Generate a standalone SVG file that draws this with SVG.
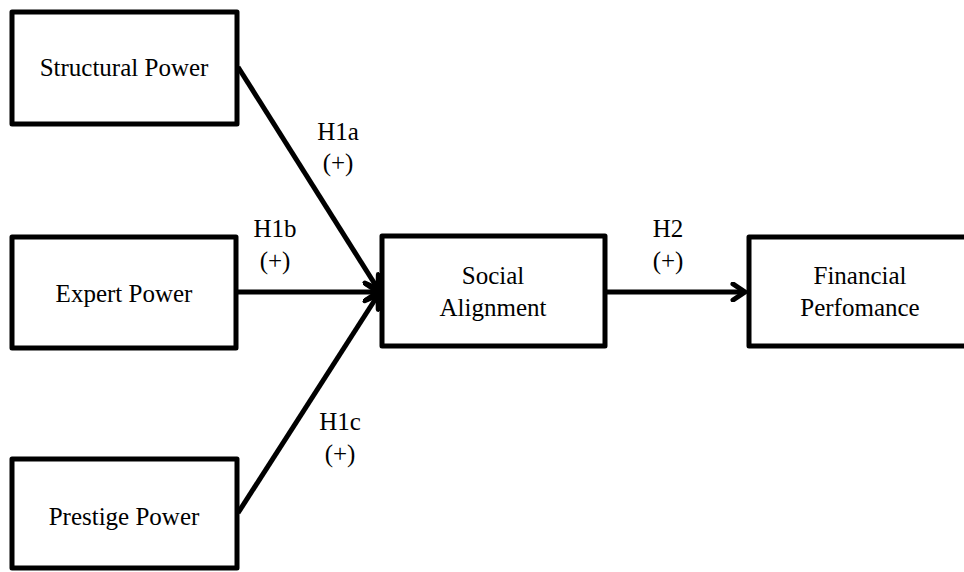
<svg xmlns="http://www.w3.org/2000/svg" width="964" height="572" viewBox="0 0 964 572">
<defs>
<style>
.box{fill:#fff;stroke:#000;stroke-width:5;stroke-linejoin:round}
.t{font-family:"Liberation Serif","Times New Roman",serif;font-size:25px;fill:#000;text-anchor:middle}
.edge{stroke:#000;stroke-width:5;fill:none}
</style>
<marker id="arr" viewBox="0 0 20 20" refX="17" refY="10" markerWidth="20" markerHeight="20" markerUnits="userSpaceOnUse" orient="auto">
<path d="M5,2 L17,10 L5,18" fill="none" stroke="#000" stroke-width="5" stroke-linecap="round" stroke-linejoin="miter"/>
</marker>
</defs>
<rect width="964" height="572" fill="#fff"/>
<g id="connectors">
<line class="edge" x1="238" y1="67" x2="378" y2="289" marker-end="url(#arr)"/>
<line class="edge" x1="238" y1="292" x2="378" y2="292" marker-end="url(#arr)"/>
<line class="edge" x1="238" y1="513" x2="378" y2="295" marker-end="url(#arr)"/>
<line class="edge" x1="607" y1="292" x2="745" y2="292" marker-end="url(#arr)"/>
<text class="t" x="338" y="140">H1a</text>
<text class="t" x="338" y="171">(+)</text>
<text class="t" x="275" y="237">H1b</text>
<text class="t" x="275" y="269">(+)</text>
<text class="t" x="668" y="237">H2</text>
<text class="t" x="668" y="269">(+)</text>
<text class="t" x="340" y="430">H1c</text>
<text class="t" x="340" y="462">(+)</text>
</g>
<g id="structural">
<rect class="box" x="12" y="12" width="225" height="112"/>
<text class="t" x="124" y="76">Structural Power</text>
</g>
<g id="expert">
<rect class="box" x="12" y="237" width="224" height="111"/>
<text class="t" x="124" y="302">Expert Power</text>
</g>
<g id="prestige">
<rect class="box" x="12" y="459" width="225" height="109"/>
<text class="t" x="124" y="525">Prestige Power</text>
</g>
<g id="social">
<rect class="box" x="382" y="236" width="223" height="110"/>
<text class="t" x="493" y="284">Social</text>
<text class="t" x="493" y="316">Alignment</text>
</g>
<g id="financial">
<rect class="box" x="749" y="237" width="230" height="109"/>
<text class="t" x="860" y="284">Financial</text>
<text class="t" x="860" y="316">Perfomance</text>
</g>
</svg>
